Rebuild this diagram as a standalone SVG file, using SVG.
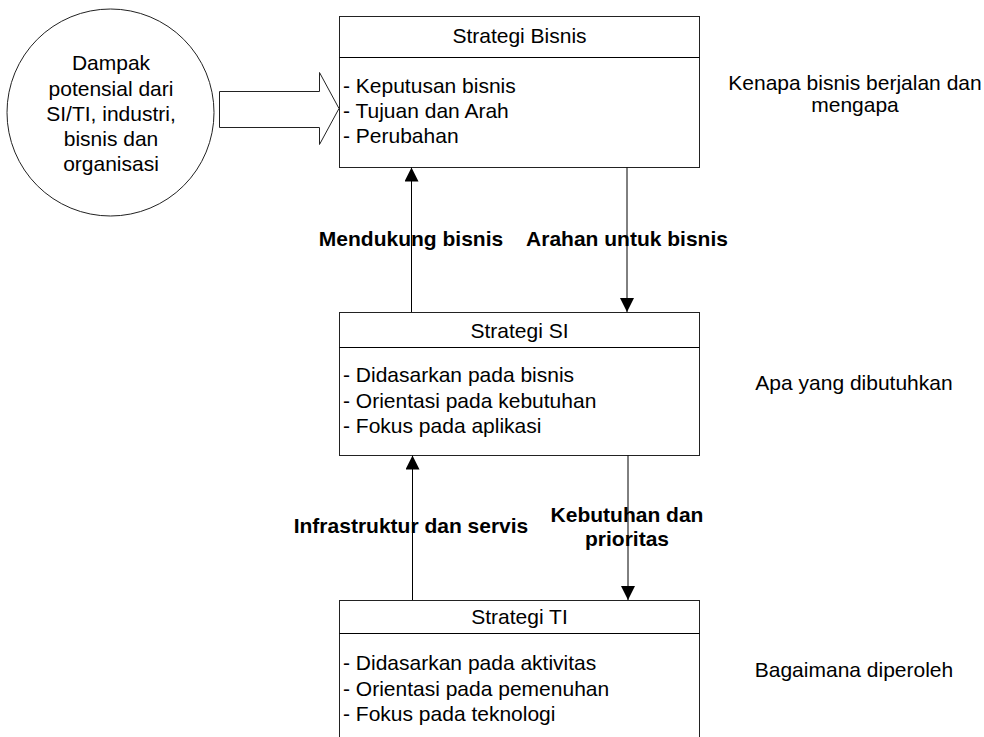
<svg xmlns="http://www.w3.org/2000/svg" width="984" height="737" viewBox="0 0 984 737">
<style>
text{font-family:"Liberation Sans",Arial,sans-serif;font-size:21px;fill:#000}
.c{text-anchor:middle}
.b{font-weight:bold}
.box{fill:#fff;stroke:#222;stroke-width:1}
.ln{stroke:#000;stroke-width:1;fill:none}
</style>
<defs>
<marker id="ah" viewBox="0 0 14 14" refX="14" refY="7" markerWidth="14" markerHeight="14" markerUnits="userSpaceOnUse" orient="auto">
<path d="M0,0 L14,7 L0,14 Z" fill="#000"/>
</marker>
</defs>
<rect width="984" height="737" fill="#fff"/>

<g id="dampak">
<circle cx="110.5" cy="112.5" r="103.5" fill="#fff" stroke="#222" stroke-width="1"/>
<text class="c" x="111" y="70">Dampak</text>
<text class="c" x="111" y="95.5">potensial dari</text>
<text class="c" x="111" y="120.5">SI/TI, industri,</text>
<text class="c" x="111" y="145.5">bisnis dan</text>
<text class="c" x="111" y="170.5">organisasi</text>
</g>

<g id="block-arrow">
<polygon points="219.5,91.5 319.5,91.5 319.5,72.5 339,108.5 319.5,144.5 319.5,127.5 219.5,127.5" fill="#fff" stroke="#222" stroke-width="1"/>
</g>

<g id="strategi-bisnis">
<rect class="box" x="339.5" y="16.5" width="360" height="151"/>
<line class="ln" x1="339.5" y1="57.5" x2="699.5" y2="57.5" stroke="#222"/>
<text class="c" x="519.5" y="43">Strategi Bisnis</text>
<text x="343" y="93">- Keputusan bisnis</text>
<text x="343" y="118">- Tujuan dan Arah</text>
<text x="343" y="143">- Perubahan</text>
</g>

<g id="strategi-si">
<rect class="box" x="339.5" y="312.5" width="360" height="143"/>
<line class="ln" x1="339.5" y1="347.5" x2="699.5" y2="347.5"/>
<text class="c" x="519.5" y="338">Strategi SI</text>
<text x="343" y="382">- Didasarkan pada bisnis</text>
<text x="343" y="407.5">- Orientasi pada kebutuhan</text>
<text x="343" y="433">- Fokus pada aplikasi</text>
</g>

<g id="strategi-ti">
<rect class="box" x="339.5" y="600.5" width="360" height="151"/>
<line class="ln" x1="339.5" y1="633.5" x2="699.5" y2="633.5"/>
<text class="c" x="519.5" y="624">Strategi TI</text>
<text x="343" y="670">- Didasarkan pada aktivitas</text>
<text x="343" y="696">- Orientasi pada pemenuhan</text>
<text x="343" y="721">- Fokus pada teknologi</text>
</g>

<g id="connectors">
<line class="ln" x1="411.5" y1="312" x2="411.5" y2="167.5" marker-end="url(#ah)"/>
<line class="ln" x1="627" y1="167.5" x2="627" y2="312" marker-end="url(#ah)"/>
<line class="ln" x1="412.5" y1="600" x2="412.5" y2="455.5" marker-end="url(#ah)"/>
<line class="ln" x1="628" y1="455.5" x2="628" y2="600" marker-end="url(#ah)"/>
</g>

<g id="labels">
<text class="c b" x="411" y="246">Mendukung bisnis</text>
<text class="c b" x="627" y="246">Arahan untuk bisnis</text>
<text class="c b" x="411" y="533">Infrastruktur dan servis</text>
<text class="c b" x="627" y="522">Kebutuhan dan</text>
<text class="c b" x="627" y="546">prioritas</text>
</g>

<g id="side-notes">
<text class="c" x="855" y="90">Kenapa bisnis berjalan dan</text>
<text class="c" x="855" y="112">mengapa</text>
<text class="c" x="854" y="390">Apa yang dibutuhkan</text>
<text class="c" x="854" y="677">Bagaimana diperoleh</text>
</g>
</svg>
